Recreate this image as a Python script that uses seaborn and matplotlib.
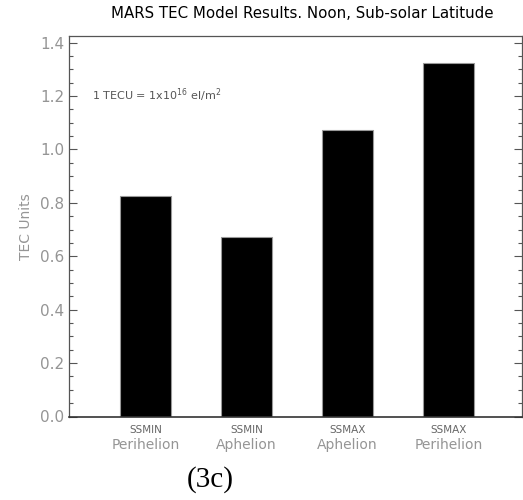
"""
Bar chart of Mars TEC model results (noon, sub-solar latitude).
"""

import pandas as pd
import seaborn as sns
import matplotlib.pyplot as plt
from matplotlib.ticker import MultipleLocator

# ---------------------------
# Data
# ---------------------------
cycles = ["SSMIN", "SSMIN", "SSMAX", "SSMAX"]
orbits = ["Perihelion", "Aphelion", "Aphelion", "Perihelion"]
tec_values = [0.827, 0.672, 1.074, 1.325]

df = pd.DataFrame({
    "case": [f"{c} {o}" for c, o in zip(cycles, orbits)],
    "tec": tec_values,
})

GRAY = "#959595"

# ---------------------------
# Plot
# ---------------------------
sns.set_style("white")
fig = plt.figure(figsize=(5.23, 5.00), dpi=100)
ax = fig.add_axes([69 / 523, 1 - 416.5 / 500, 453 / 523, 380.5 / 500])

sns.barplot(data=df, x="case", y="tec", color="black", width=0.5,
            edgecolor="#999999", linewidth=0.8, saturation=1, ax=ax)

ax.set_xlim(-0.76, 3.73)
ax.set_ylim(0, 1.425)
ax.yaxis.set_major_locator(MultipleLocator(0.2))
ax.yaxis.set_minor_locator(MultipleLocator(0.05))
ax.yaxis.set_major_formatter(plt.FuncFormatter(lambda v, p: f"{v:.1f}"))
ax.tick_params(axis="y", which="major", direction="in", length=6, width=0.8,
               color="#555555", labelsize=11, labelcolor=GRAY, right=True, left=True)
ax.tick_params(axis="y", which="minor", direction="in", length=3, width=0.8,
               color="#555555", right=True, left=True)
ax.tick_params(axis="x", bottom=False, labelbottom=False)

for side in ["left", "top", "right", "bottom"]:
    ax.spines[side].set_visible(True)
    ax.spines[side].set_color("#555555")
    ax.spines[side].set_linewidth(0.9)
ax.spines["bottom"].set_color("#333333")
ax.spines["bottom"].set_linewidth(1.2)

ax.set_xlabel("")
ax.set_ylabel("TEC Units", color=GRAY, fontsize=10, labelpad=5)

# two-line category labels
trans = ax.get_xaxis_transform()
for i, (c, o) in enumerate(zip(cycles, orbits)):
    ax.text(i, -0.036, c, transform=trans, ha="center", va="center",
            fontsize=7.5, color="#666666")
    ax.text(i, -0.075, o, transform=trans, ha="center", va="center",
            fontsize=10, color=GRAY)

ax.text(-0.53, 1.204, r"1 TECU = 1x10$^{16}$ el/m$^2$", ha="left", va="center",
        fontsize=8, color="#555555")

fig.text(302 / 523, 1 - 13 / 500, "MARS TEC Model Results. Noon, Sub-solar Latitude",
         ha="center", va="center", fontsize=10.8, color="black")
fig.text(210 / 523, 1 - 480 / 500, "(3c)", ha="center", va="center",
         fontsize=21, family="Liberation Serif", color="black")

# ---------------------------
# Save PNG
# ---------------------------
fig.savefig("out.png", dpi=100)
